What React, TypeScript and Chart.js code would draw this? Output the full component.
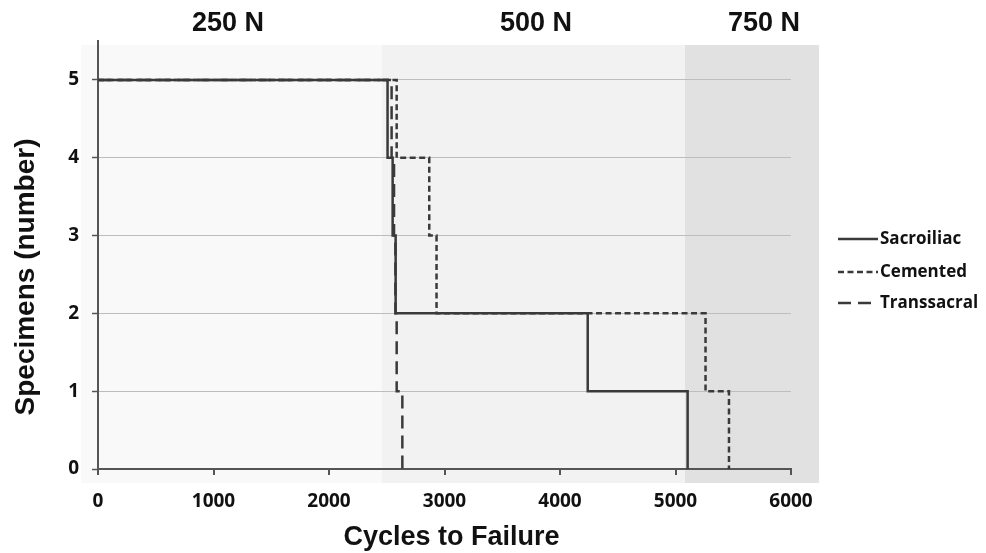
import React, { useEffect, useRef } from "react";
import { Chart, registerables } from "chart.js";

Chart.register(...registerables);

// ---- data ----
const sacroiliacCycles = [0, 2507, 2551, 2577, 4240, 5105];
const sacroiliacCounts = [5, 4, 3, 2, 1, 0];
const cementedCycles = [0, 2586, 2868, 2931, 5260, 5463];
const cementedCounts = [5, 4, 3, 2, 1, 0];
const transsacralCycles = [0, 2542, 2563, 2575, 2586, 2635];
const transsacralCounts = [5, 4, 3, 2, 1, 0];

const xTickValues = [0, 1000, 2000, 3000, 4000, 5000, 6000];
const yTickValues = [0, 1, 2, 3, 4, 5];

const loadLabels = ["250 N", "500 N", "750 N"];
const loadStarts = [-147, 2459, 5082];
const loadEnds = [2459, 5082, 6242];
const loadLabelCenters = [1125, 3792, 5766];

const seriesNames = ["Sacroiliac", "Cemented", "Transsacral"];
const xTitle = "Cycles to Failure";
const yTitle = "Specimens (number)";

// ---- styles ----
const LINE_COLOR = "#3a3a3a";
const AXIS_COLOR = "#555555";
const BAND_COLORS = ["#f9f9f9", "#f2f2f2", "#e1e1e1"];
const DASHES: number[][] = [[], [6, 3.5], [13, 7]];
const TITLE_FONT = 'bold 27px "Liberation Sans", Arial, sans-serif';
const YTITLE_FONT = 'bold 28px "Liberation Sans", Arial, sans-serif';

const zip = (xs: number[], ys: number[]) => xs.map((x, i) => ({ x, y: ys[i] }));

const decorPlugin = {
  id: "decor",
  beforeDraw(chart: any) {
    const { ctx, chartArea } = chart;
    const xs = chart.scales.x;
    const top = chartArea.top + 4;
    const bottom = chartArea.bottom + 14;
    ctx.save();
    loadStarts.forEach((s, i) => {
      const x0 = xs.getPixelForValue(s);
      const x1 = xs.getPixelForValue(loadEnds[i]);
      ctx.fillStyle = BAND_COLORS[i];
      ctx.fillRect(x0, top, x1 - x0, bottom - top);
    });
    ctx.restore();
  },
  afterDraw(chart: any) {
    const { ctx, chartArea } = chart;
    const xs = chart.scales.x;
    ctx.save();
    // load labels
    ctx.font = TITLE_FONT;
    ctx.fillStyle = "#111";
    ctx.textAlign = "center";
    ctx.textBaseline = "middle";
    loadLabels.forEach((t, i) => {
      ctx.fillText(t, xs.getPixelForValue(loadLabelCenters[i]), chartArea.top - 17);
    });
    // x axis title
    ctx.fillText(xTitle, (chartArea.left + chartArea.right) / 2 + 7, chartArea.bottom + 69);
    // y axis title
    ctx.save();
    ctx.font = YTITLE_FONT;
    ctx.translate(26, chartArea.top + 236);
    ctx.rotate(-Math.PI / 2);
    ctx.fillText(yTitle, 0, 0);
    ctx.restore();
    // legend
    const lx = chartArea.right + 47;
    const rows = [chartArea.top + 198, chartArea.top + 231, chartArea.top + 262];
    const lens = [40, 40, 34];
    ctx.font = 'bold 17px "Open Sans", sans-serif';
    ctx.textAlign = "left";
    seriesNames.forEach((name, i) => {
      ctx.beginPath();
      ctx.setLineDash(DASHES[i]);
      ctx.strokeStyle = LINE_COLOR;
      ctx.lineWidth = 2.5;
      ctx.moveTo(lx, rows[i]);
      ctx.lineTo(lx + lens[i], rows[i]);
      ctx.stroke();
      ctx.setLineDash([]);
      ctx.fillStyle = "#111";
      ctx.fillText(name, lx + 42, rows[i]);
    });
    ctx.restore();
  },
};

export default function App() {
  const ref = useRef<HTMLCanvasElement | null>(null);
  useEffect(() => {
    if (!ref.current) return;
    const tickFont = { family: '"Open Sans", sans-serif', weight: "bold" as const, size: 19 };
    const chart = new Chart(ref.current, {
      type: "line",
      data: {
        datasets: [
          { label: seriesNames[0], data: zip(sacroiliacCycles, sacroiliacCounts) },
          { label: seriesNames[1], data: zip(cementedCycles, cementedCounts) },
          { label: seriesNames[2], data: zip(transsacralCycles, transsacralCounts) },
        ].map((d, i) => ({
          ...d,
          borderColor: LINE_COLOR,
          borderWidth: 2.5,
          borderDash: DASHES[i],
          stepped: "before" as const,
          pointRadius: 0,
          fill: false,
          tension: 0,
        })),
      },
      options: {
        responsive: false,
        animation: false,
        layout: { padding: { left: 0, right: 195, top: 41, bottom: 0 } },
        plugins: { legend: { display: false }, tooltip: { enabled: false } },
        scales: {
          x: {
            type: "linear",
            min: 0,
            max: 6000,
            afterBuildTicks: (axis: any) => {
              axis.ticks = xTickValues.map((v) => ({ value: v }));
            },
            afterFit: (axis: any) => {
              axis.height = 84;
            },
            ticks: {
              font: tickFont,
              color: "#111",
              padding: 15,
              maxRotation: 0,
              autoSkip: false,
              callback: (v: any) => String(v),
            },
            grid: { drawOnChartArea: false, drawTicks: true, tickLength: 6, color: AXIS_COLOR, lineWidth: 2 },
            border: { color: AXIS_COLOR, width: 2 },
            title: { display: false, text: xTitle },
          },
          y: {
            type: "linear",
            min: 0,
            max: 5.5,
            afterBuildTicks: (axis: any) => {
              axis.ticks = yTickValues.map((v) => ({ value: v }));
            },
            afterFit: (axis: any) => {
              axis.width = 98;
            },
            ticks: { font: tickFont, color: "#111", padding: 13, autoSkip: false, callback: (v: any) => String(v) },
            grid: {
              drawOnChartArea: true,
              drawTicks: true,
              tickLength: 6,
              color: (c: any) => (c.tick && c.tick.value === 0 ? "rgba(0,0,0,0)" : "#bdbdbd"),
              lineWidth: 1,
              tickColor: AXIS_COLOR,
              tickWidth: 1.5,
            },
            border: { color: AXIS_COLOR, width: 2 },
            title: { display: false, text: yTitle },
          },
        },
      },
      plugins: [decorPlugin],
    });
    return () => chart.destroy();
  }, []);
  return (
    <div style={{ position: "absolute", left: 0, top: 0, width: 986, height: 553, background: "#fff" }}>
      <canvas ref={ref} width={986} height={553} style={{ display: "block" }} />
    </div>
  );
}
